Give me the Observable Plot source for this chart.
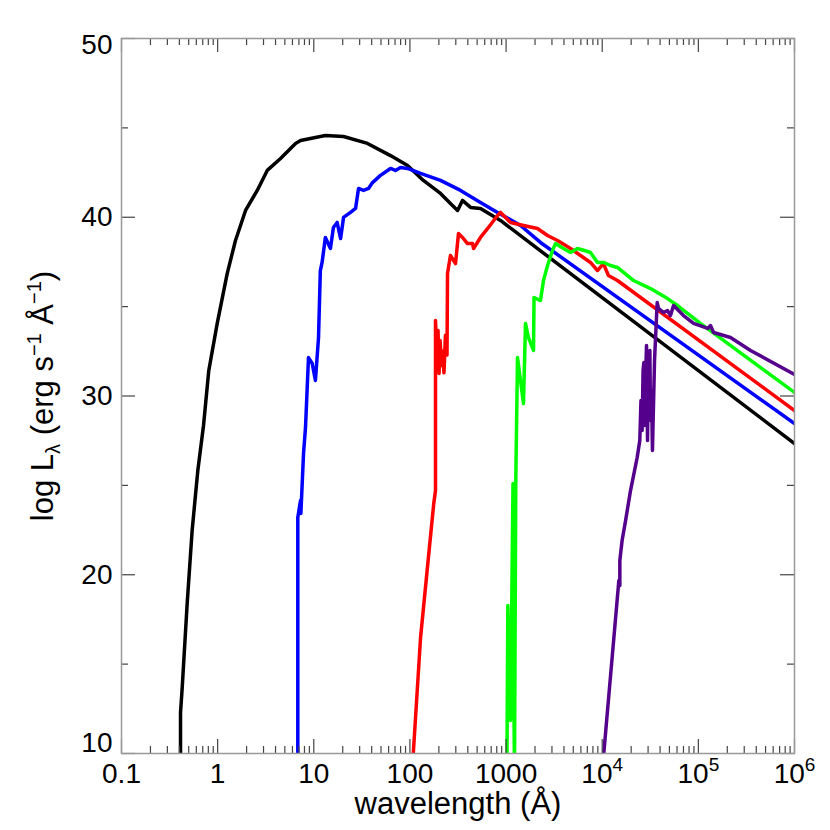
<!DOCTYPE html>
<html><head><meta charset="utf-8">
<script src="https://cdn.jsdelivr.net/npm/d3@7"></script>
<script src="https://cdn.jsdelivr.net/npm/@observablehq/plot@0.6"></script>
<style>body{margin:0;background:#fff;} svg{display:block}</style>
</head><body><div id="chart"></div>
<script>
// ---- data (wavelength in Å, log L_lambda) ----
const blackWave = [0.411, 0.411, 0.428, 0.482, 0.543, 0.622, 0.713, 0.809, 0.990, 1.257, 1.533, 1.950, 2.58, 3.28, 4.51, 6.46, 7.28, 11.7, 13.2, 20.4, 36.2, 62.8, 94.4, 138, 208, 264, 313, 352, 427, 542, 875, 1e6];
const blackLogL = [9.0, 12.29, 13.69, 18.39, 22.48, 25.83, 28.35, 31.43, 34.06, 36.85, 38.70, 40.38, 41.50, 42.62, 43.29, 44.13, 44.29, 44.52, 44.57, 44.52, 44.13, 43.45, 42.90, 42.06, 41.33, 40.77, 40.38, 40.94, 40.55, 40.49, 39.82, 27.34];

const blueWave = [6.82, 6.82, 7.28, 7.34, 7.82, 8.20, 8.81, 9.63, 10.4, 11.2, 11.7, 12.2, 13.2, 14.9, 16.0, 17.5, 19.0, 20.4, 24.1, 27.2, 29.2, 32.9, 37.1, 40.8, 49.4, 62.8, 70.8, 79.8, 94.4, 129, 208, 336, 542, 814, 1413, 2280, 1e6];
const blueLogL = [9, 23.20, 24.15, 23.43, 26.78, 28.24, 32.15, 31.82, 30.87, 33.27, 37.02, 37.47, 38.87, 38.25, 39.43, 39.71, 38.81, 39.99, 40.27, 40.49, 41.61, 41.50, 41.61, 41.94, 42.34, 42.73, 42.62, 42.78, 42.73, 42.45, 42.06, 41.50, 40.83, 40.27, 39.54, 38.59, 28.46];

const redWave = [105.5, 129, 151, 177, 184.5, 184.5, 184.5, 191, 196, 201, 206, 213, 218, 226, 234, 243, 246, 264, 298, 320, 352, 397, 448, 459, 542, 656, 814, 875, 1112, 1518, 2123, 2700, 3430, 4680, 5940, 7550, 8930, 10300, 11600, 14400, 1e6];
const redLogL = [9, 16.49, 20.24, 23.99, 24.71, 31.26, 34.22, 32.27, 33.66, 31.26, 33.1, 31.7, 32.5, 31.3, 33.4, 32.3, 36.85, 37.86, 37.41, 39.09, 38.87, 38.53, 38.53, 38.25, 38.87, 39.43, 40.10, 40.27, 39.71, 39.54, 39.37, 38.98, 38.70, 38.25, 37.86, 37.47, 37.02, 37.41, 36.74, 36.46, 29.19];

const greenWave = [1020, 1043, 1112, 1181, 1203, 1223, 1262, 1315, 1413, 1518, 1592, 1711, 1929, 1953, 2280, 2450, 2700, 3040, 3270, 3955, 4680, 5530, 6540, 7550, 8930, 10300, 12200, 14400, 21200, 31800, 47800, 60700, 105000, 1e6];
const greenLogL = [9, 18.28, 11.85, 25.10, 13.52, 9, 25.27, 32.15, 30.87, 29.58, 34.06, 33.27, 32.55, 35.51, 35.34, 36.46, 37.30, 38.14, 38.53, 38.25, 38.03, 38.25, 38.14, 38.03, 37.47, 37.47, 37.30, 37.19, 36.46, 36.01, 35.45, 35.06, 34.06, 30.20];

const purpleWave = [10000, 14900, 15250, 15250, 16100, 17500, 19700, 23100, 24600, 25300, 26000, 26600, 27100, 27500, 28200, 28900, 29600, 30300, 31300, 31800, 32600, 33300, 35000, 37300, 38500, 43400, 47800, 51300, 55200, 70100, 89100, 125000, 134000, 144000, 216000, 349000, 1e6];
const purpleLogL = [9, 19.68, 19.40, 20.80, 21.92, 23.03, 24.71, 26.56, 27.51, 29.75, 28.07, 31.43, 31.87, 28.35, 30.87, 32.83, 27.51, 31.99, 32.55, 28.63, 30.31, 26.95, 31.99, 35.23, 34.90, 34.67, 34.78, 34.50, 35.06, 34.50, 34.06, 33.78, 33.94, 33.55, 33.27, 32.55, 31.2];

const seriesNames = ["spectrum 1", "spectrum 2", "spectrum 3", "spectrum 4", "spectrum 5"];
const seriesColors = ["#000000", "#0000ff", "#ff0000", "#00ff00", "#55008c"];
const seriesData = [[blackWave, blackLogL], [blueWave, blueLogL], [redWave, redLogL], [greenWave, greenLogL], [purpleWave, purpleLogL]];

const xMajorTicks = [0.1, 1, 10, 100, 1000, 1e4, 1e5, 1e6];
const yMajorTicks = [10, 20, 30, 40, 50];
const yMinorTicks = [15, 25, 35, 45];
const xTitle = "wavelength (Å)";
const yTitle = "log Lλ (erg s−1 Å−1)";

// ---- build table ----
const rows = seriesData.flatMap(([w, l], k) => w.map((wave, i) => ({series: seriesNames[k], wave, logL: l[i]})));
const xMinorTicks = xMajorTicks.slice(0, -1).flatMap(d => [2,3,4,5,6,7,8,9].map(m => d * m));
const fmtX = d => d < 1e4 ? String(d) : "10^" + Math.round(Math.log10(d));

const W = 830, H = 830, mL = 121, mR = 36, mT = 38, mB = 77;
const fw = W - mL - mR, fh = H - mT - mB;
const tickColor = "#444";
const majorLen = 14, minorLen = 7;
const font = "'Liberation Sans', Arial, Helvetica, sans-serif";

const plot = Plot.plot({
  width: W, height: H,
  marginLeft: mL, marginRight: mR, marginTop: mT, marginBottom: mB,
  style: {fontFamily: font, background: "#fff", color: "#000"},
  x: {type: "log", domain: [0.1, 1e6]},
  y: {domain: [10, 50]},
  color: {domain: seriesNames, range: seriesColors},
  marks: [
    Plot.line(rows, {x: "wave", y: "logL", z: "series", stroke: "series", strokeWidth: 3.5, clip: true, strokeLinejoin: "round"}),
    // bottom / top ticks
    Plot.tickX(xMajorTicks, {x: d => d, insetTop: fh - majorLen, stroke: tickColor, strokeWidth: 1.2}),
    Plot.tickX(xMajorTicks, {x: d => d, insetBottom: fh - majorLen, stroke: tickColor, strokeWidth: 1.2}),
    Plot.tickX(xMinorTicks, {x: d => d, insetTop: fh - minorLen, stroke: tickColor, strokeWidth: 1.2}),
    Plot.tickX(xMinorTicks, {x: d => d, insetBottom: fh - minorLen, stroke: tickColor, strokeWidth: 1.2}),
    // left / right ticks
    Plot.tickY(yMajorTicks, {y: d => d, insetRight: fw - majorLen, stroke: tickColor, strokeWidth: 1.2}),
    Plot.tickY(yMajorTicks, {y: d => d, insetLeft: fw - majorLen, stroke: tickColor, strokeWidth: 1.2}),
    Plot.tickY(yMinorTicks, {y: d => d, insetRight: fw - minorLen, stroke: tickColor, strokeWidth: 1.2}),
    Plot.tickY(yMinorTicks, {y: d => d, insetLeft: fw - minorLen, stroke: tickColor, strokeWidth: 1.2}),
    Plot.frame({stroke: "#999", strokeWidth: 1.5}),
    Plot.axisX(xMajorTicks, {anchor: "bottom", tickSize: 0, tickPadding: 10, fontSize: 28, tickFormat: fmtX, label: null}),
    Plot.axisY([20, 30, 40], {anchor: "left", tickSize: 0, tickPadding: 9, fontSize: 28, label: null}),
    Plot.axisY([50], {anchor: "left", tickSize: 0, tickPadding: 9, fontSize: 28, label: null, dy: 7}),
    Plot.axisY([10], {anchor: "left", tickSize: 0, tickPadding: 9, fontSize: 28, label: null, dy: -10}),
    Plot.text([xTitle], {frameAnchor: "bottom", textAnchor: "middle", lineAnchor: "middle", dy: 51, fontSize: 31, text: d => d}),
    Plot.text([yTitle], {frameAnchor: "left", textAnchor: "middle", lineAnchor: "middle", rotate: -90, dx: -78, fontSize: 31, text: d => d})
  ]
});

const svg = d3.select(plot);
// superscript exponents on x tick labels, sub/superscripts in the y title
svg.selectAll("text").each(function() {
  const t = d3.select(this);
  const s = this.textContent;
  if (/^10\^\d+$/.test(s)) {
    const exp = s.split("^")[1];
    t.text(null);
    t.append("tspan").text("10");
    t.append("tspan").attr("font-size", 19).attr("dy", -12).text(exp);
  } else if (s === yTitle) {
    t.text(null);
    t.append("tspan").text("log L");
    t.append("tspan").attr("font-size", 20).attr("dy", 7).text("λ");
    t.append("tspan").attr("dy", -7).text(" (erg s");
    t.append("tspan").attr("font-size", 20).attr("dy", -12).text("−1");
    t.append("tspan").attr("dy", 12).text(" Å");
    t.append("tspan").attr("font-size", 20).attr("dy", -12).text("−1");
    t.append("tspan").attr("dy", 12).text(")");
  }
});

document.getElementById("chart").appendChild(plot);
</script>
</body></html>
